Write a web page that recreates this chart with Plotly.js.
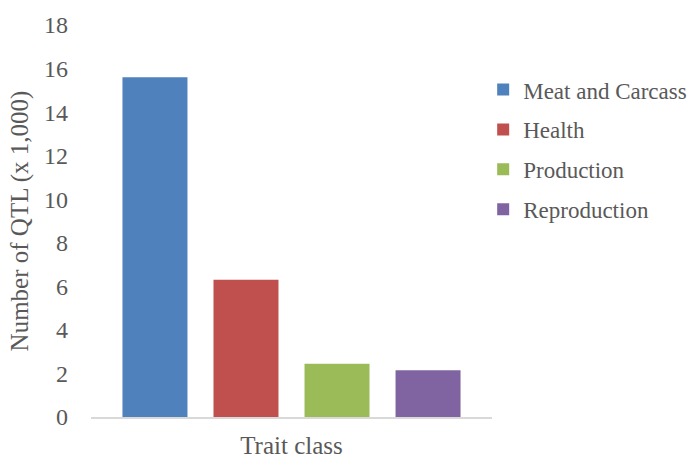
<!DOCTYPE html>
<html>
<head>
<meta charset="utf-8">
<script src="https://cdn.plot.ly/plotly-3.0.1.min.js"></script>
<style>html,body{margin:0;padding:0;background:#fff;}#chart{width:698px;height:459px;}</style>
</head>
<body>
<div id="chart"></div>
<script>
const category = ["Trait class"];
const seriesNames = ["Meat and Carcass", "Health", "Production", "Reproduction"];
const seriesValues = [15.6, 6.3, 2.45, 2.15];
const seriesColors = ["#4f81bd", "#c0504d", "#9bbb59", "#8064a2"];
const yTicks = [0, 2, 4, 6, 8, 10, 12, 14, 16, 18];

const FONT = "Liberation Serif, Times New Roman, serif";
const traces = seriesNames.map((name, i) => ({
  type: "bar",
  name: name,
  x: category,
  y: [seriesValues[i]],
  marker: {color: seriesColors[i]},
  legendgroup: "g" + i,
  hoverinfo: "name+y"
}));

const layout = {
  width: 698, height: 459,
  margin: {l: 91, r: 206, t: 25, b: 42, autoexpand: false},
  paper_bgcolor: "#fff", plot_bgcolor: "#fff",
  font: {family: FONT, color: "#595959", size: 24},
  barmode: "group",
  bargap: 0.092,
  bargroupgap: 0.286,
  showlegend: true,
  legend: {
    x: 0.978, xanchor: "left", y: 0.89, yanchor: "top",
    font: {family: FONT, size: 23, color: "#595959"},
    tracegroupgap: 7, itemwidth: 30
  },
  xaxis: {
    showticklabels: false, ticks: "",
    showline: true, linecolor: "#d9d9d9", linewidth: 2,
    showgrid: false, zeroline: false,
    title: {text: "Trait class", font: {family: FONT, size: 25, color: "#595959"}, standoff: 21}
  },
  yaxis: {
    range: [0, 18], tickvals: yTicks, ticktext: yTicks.map(String),
    showgrid: false, zeroline: false, showline: false,
    ticks: "", ticklabelstandoff: 22,
    tickfont: {family: FONT, size: 24, color: "#595959"},
    title: {text: "Number of QTL (x 1,000)", font: {family: FONT, size: 25, color: "#595959"}, standoff: 8}
  }
};

Plotly.newPlot("chart", traces, layout, {displayModeBar: false, staticPlot: true});
</script>
</body>
</html>
